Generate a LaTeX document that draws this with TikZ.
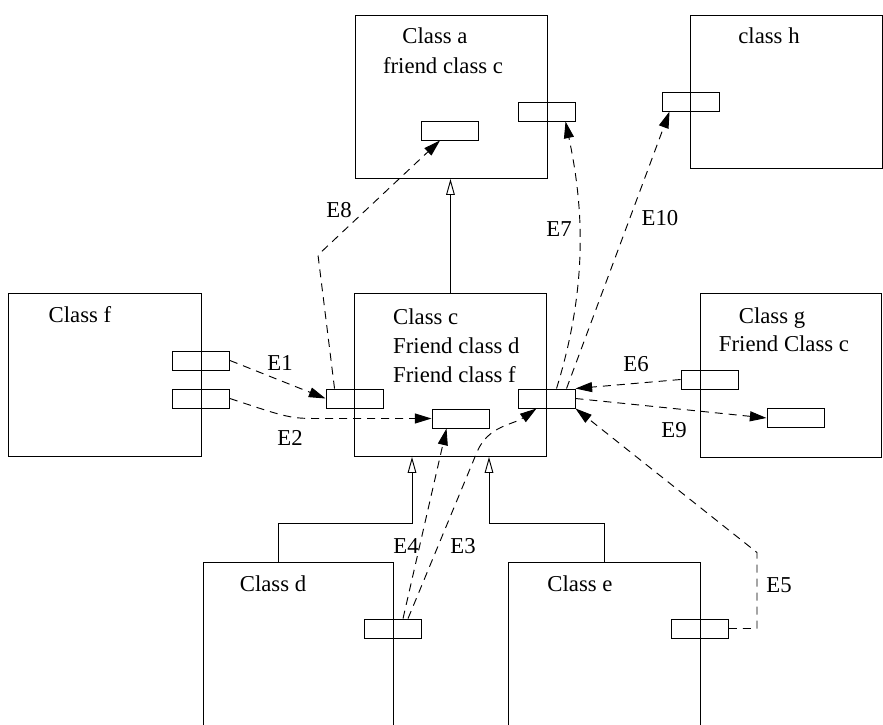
\documentclass[tikz,border=0pt]{standalone}
\usepackage{fontspec}
\setmainfont{Liberation Serif}
\usetikzlibrary{arrows.meta,calc}
\tikzset{
  classbox/.style={draw=black, line width=0.8pt, inner sep=0pt, anchor=north west},
  port/.style={draw=black, line width=0.8pt, inner sep=0pt, minimum width=1.71cm, minimum height=0.57cm},
  classname/.style={font=\fontsize{19.4}{23.8}\selectfont, inner sep=0pt, anchor=base},
  linklabel/.style={font=\fontsize{19.4}{23.8}\selectfont, inner sep=0pt},
  inherit/.style={line width=0.8pt, -{Triangle[open, length=0.48cm, width=0.26cm]}},
  link/.style={line width=0.8pt, dash pattern=on 0.24cm off 0.18cm, -{Triangle[length=0.5cm, width=0.3cm]}},
}

\begin{document}
\begin{tikzpicture}[x=0.03cm, y=-0.03cm]
\useasboundingbox (0,0) rectangle (883,725);
% classes
\node[classbox, minimum width=5.76cm, minimum height=4.89cm] (a) at (355,15) {};
\node[classbox, minimum width=5.76cm, minimum height=4.59cm] (h) at (690,15) {};
\node[classbox, minimum width=5.79cm, minimum height=4.89cm] (f) at (8,293) {};
\node[classbox, minimum width=5.76cm, minimum height=4.89cm] (c) at (354,293) {};
\node[classbox, minimum width=5.43cm, minimum height=4.92cm] (g) at (700,293) {};
\node[classbox, minimum width=5.70cm, minimum height=5.19cm] (d) at (203,562) {};
\node[classbox, minimum width=5.76cm, minimum height=5.19cm] (e) at (508,562) {};
% class texts
\node[classname] (ta1) at (435,43) {Class a};
\node[classname] (ta2) at (443,73) {friend class c};
\node[classname] (th) at (769,43) {class h};
\node[classname] (tf) at (80,322) {Class f};
\node[classname, anchor=base west] (tc1) at (393,324) {Class c};
\node[classname, anchor=base west] (tc2) at (393,353) {Friend class d};
\node[classname, anchor=base west] (tc3) at (393,382) {Friend class f};
\node[classname] (tg1) at (772,323) {Class g};
\node[classname] (tg2) at (784,351) {Friend Class c};
\node[classname] (td) at (273,591) {Class d};
\node[classname] (te) at (580,591) {Class e};
% ports
\node[port] (pa1) at (450,130.5) {};
\node[port] (pa2) at (546.5,111.5) {};
\node[port] (ph) at (690.5,101.5) {};
\node[port] (pf1) at (201,360.5) {};
\node[port] (pf2) at (201,398.5) {};
\node[port] (pc1) at (354.5,398.5) {};
\node[port] (pc2) at (460.5,418.5) {};
\node[port] (pc3) at (546.5,398.5) {};
\node[port] (pg1) at (709.5,379.5) {};
\node[port] (pg2) at (795.5,418) {};
\node[port] (pd) at (393,628.5) {};
\node[port] (pe) at (700,628.5) {};
% inheritance
\draw[inherit] (c.north) -- (c.north |- a.south);
\draw[inherit] ($(d.north west)+(75,0)$) |- ($(c.south west)+(58,67)$) -- ($(c.south west)+(58,0)$);
\draw[inherit] ($(e.north west)+(96,0)$) |- ($(c.south west)+(135,67)$) -- ($(c.south west)+(135,0)$);
% friend links
\draw[link] (pf1.east) -- (pc1.west);
\draw[link] (pf2.east) .. controls (290,418.5) .. ($(pc2.west)+(-110,0)$) -- (pc2.west);
\draw[link] ($(pc1.north west)+(9,0)$) -- (318,255) -- ($(pa1.south west)+(19,0)$);
\draw[link] ($(pc3.north west)+(39,0)$) .. controls (590,280) and (582,200) .. ($(pa2.south west)+(48,0)$);
\draw[link] ($(pc3.north west)+(49,0)$) -- ($(ph.south west)+(8,0)$);
\draw[link] (pg1.west) -- (pc3.north east);
\draw[link] (pc3.east) -- (pg2.west);
\draw[link] (pe.east) -| ($(pe.east)+(28,-76)$) -- (pc3.south east);
\draw[link] ($(pd.north west)+(39,0)$) -- ($(pc2.south west)+(15,0)$);
\draw[link] ($(pd.north west)+(44,0)$) -- (477,452) to[out=67,in=-145] ($(pc3.south west)+(19,0)$);
% link labels
\node[linklabel] (l1) at (280,363) {E1};
\node[linklabel] (l2) at (290,438) {E2};
\node[linklabel] (l3) at (463,546) {E3};
\node[linklabel] (l4) at (406,546) {E4};
\node[linklabel] (l5) at (779,585) {E5};
\node[linklabel] (l6) at (636,364) {E6};
\node[linklabel] (l7) at (559,229) {E7};
\node[linklabel] (l8) at (339,210) {E8};
\node[linklabel] (l9) at (674,430) {E9};
\node[linklabel] (l10) at (660,218) {E10};
\end{tikzpicture}
\end{document}
